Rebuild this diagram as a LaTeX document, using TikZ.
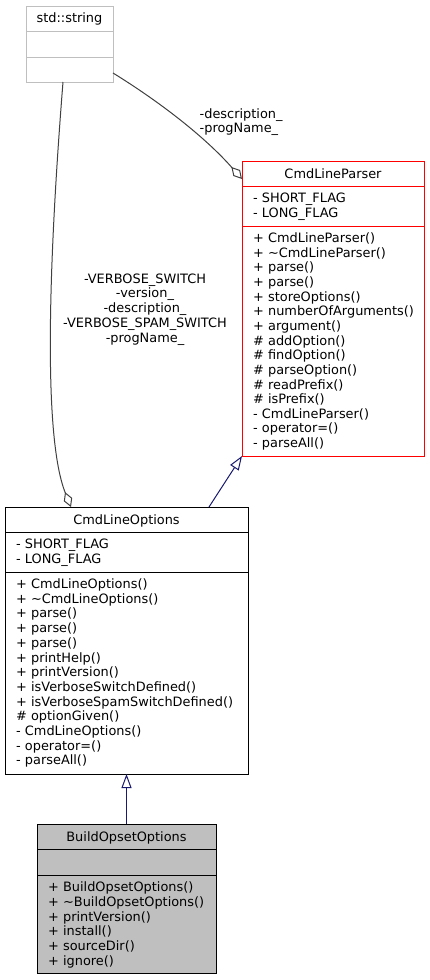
\documentclass[tikz,border=0pt]{standalone}
\usepackage{fontspec}
\setmainfont{DejaVu Sans}
\usetikzlibrary{arrows.meta}
\definecolor{edgegray}{HTML}{404040}
\definecolor{inhblue}{HTML}{191970}
\definecolor{boxgray}{HTML}{BFBFBF}
\newcommand{\umlfont}{\fontsize{12.9pt}{14.7pt}\selectfont}
\tikzset{
  classbox/.style={draw=black, line width=1pt, anchor=north west, inner sep=0pt, outer sep=0pt},
  classtitle/.style={anchor=base, inner sep=0pt, font=\umlfont},
  member/.style={anchor=base west, inner sep=0pt, font=\umlfont},
  edgelabel/.style={inner sep=0pt, font=\umlfont},
  aggr/.style={draw=edgegray, line width=1pt, -{Diamond[open, length=16pt, width=9pt]}},
  inherit/.style={draw=inhblue, line width=1pt, -{Triangle[open, length=14pt, width=10pt]}},
}
\begin{document}
\begin{tikzpicture}[x=1pt,y=-1pt]
    \fill[white] (0,0) rectangle (430,980);
    \useasboundingbox (0,0) rectangle (430,980);
    % class boxes
    \node[classbox, draw=boxgray, minimum width=87pt, minimum height=76pt] (string) at (26,6) {};
    \node[classbox, draw=red, minimum width=182pt, minimum height=295pt] (parser) at (242,161) {};
    \node[classbox, minimum width=243pt, minimum height=267pt] (options) at (5,507) {};
    \node[classbox, fill=boxgray, minimum width=179pt, minimum height=149pt] (build) at (37,824) {};
    % compartment lines
    \foreach \y in {25,51} {
        \draw[boxgray, line width=1pt] ([yshift=-\y pt]string.north west) -- ([yshift=-\y pt]string.north east);
    }
    \foreach \y in {25,65} {
        \draw[red, line width=1pt] ([yshift=-\y pt]parser.north west) -- ([yshift=-\y pt]parser.north east);
        \draw[line width=1pt] ([yshift=-\y pt]options.north west) -- ([yshift=-\y pt]options.north east);
    }
    \foreach \y in {25,51} {
        \draw[line width=1pt] ([yshift=-\y pt]build.north west) -- ([yshift=-\y pt]build.north east);
    }
    % class names
    \node[classtitle] (stringname) at ([yshift=-16pt]string.north) {std::string};
    \node[classtitle] (parsername) at ([yshift=-17pt]parser.north) {CmdLineParser};
    \node[classtitle] (optionsname) at ([yshift=-17pt]options.north) {CmdLineOptions};
    \node[classtitle] (buildname) at ([yshift=-17pt]build.north) {BuildOpsetOptions};
    % members
    \foreach \m [count=\i from 0] in {- SHORT\_FLAG, - LONG\_FLAG} {
        \node[member] (parserattr\i) at ([xshift=11pt, yshift={-41.5pt-14.7pt*\i}]parser.north west) {\m};
        \node[member] (optionsattr\i) at ([xshift=11pt, yshift={-41.5pt-14.7pt*\i}]options.north west) {\m};
    }
    \foreach \m [count=\i from 0] in {+ CmdLineParser(), + \textasciitilde CmdLineParser(), + parse(), + parse(),
        + storeOptions(), + numberOfArguments(), + argument(), \# addOption(), \# findOption(),
        \# parseOption(), \# readPrefix(), \# isPrefix(), - CmdLineParser(), - operator=(), - parseAll()} {
        \node[member] (parserop\i) at ([xshift=11pt, yshift={-81.5pt-14.65pt*\i}]parser.north west) {\m};
    }
    \foreach \m [count=\i from 0] in {+ CmdLineOptions(), + \textasciitilde CmdLineOptions(), + parse(), + parse(),
        + parse(), + printHelp(), + printVersion(), + isVerboseSwitchDefined(), + isVerboseSpamSwitchDefined(),
        \# optionGiven(), - CmdLineOptions(), - operator=(), - parseAll()} {
        \node[member] (optionsop\i) at ([xshift=11pt, yshift={-81.5pt-14.7pt*\i}]options.north west) {\m};
    }
    \foreach \m [count=\i from 0] in {+ BuildOpsetOptions(), + \textasciitilde BuildOpsetOptions(), + printVersion(),
        + install(), + sourceDir(), + ignore()} {
        \node[member] (buildop\i) at ([xshift=11pt, yshift={-67.5pt-14.8pt*\i}]build.north west) {\m};
    }
    % relations
    \draw[inherit] (build.north) -- (options.south);
    \draw[inherit] ([xshift=204pt]options.north west) -- (parser.south west);
    \draw[aggr] ([yshift=-67pt]string.north east) .. controls (160,102) and (205,137) .. ([yshift=-18pt]parser.north west);
    \draw[aggr] ([xshift=-6.5pt]string.south) .. controls (52,220) and (40,430) .. ([xshift=-55.5pt]options.north);
    % relation labels
    \node[edgelabel, align=left, anchor=north west] (parserlabel) at (199.5,108) {-description\_\\-progName\_};
    \node[edgelabel, align=center, anchor=north] (optionslabel) at (145,273.5) {-VERBOSE\_SWITCH\\-version\_\\-description\_\\-VERBOSE\_SPAM\_SWITCH\\-progName\_};
\end{tikzpicture}
\end{document}
